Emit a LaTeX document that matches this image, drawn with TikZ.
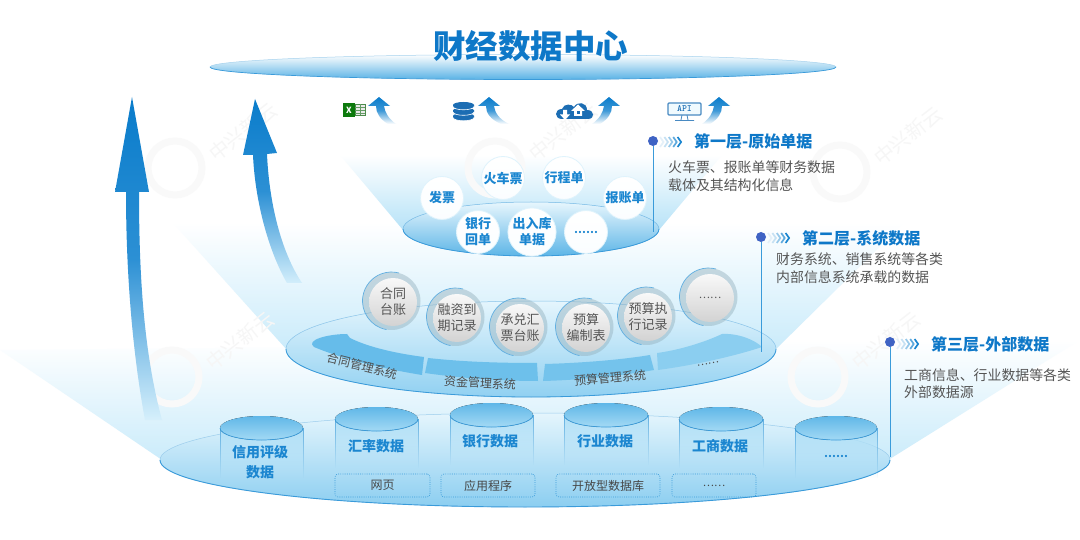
\documentclass[tikz,border=0pt]{standalone}
\usepackage{fontspec}
\setmainfont{Noto Sans CJK SC}
\usetikzlibrary{fadings,shapes.geometric,calc}
\tikzfading[name=fadedown, top color=transparent!0, bottom color=transparent!100]
\definecolor{bluehead}{HTML}{0A7CCB}
\definecolor{bluetext}{HTML}{1B86D0}
\definecolor{titleblue}{HTML}{0E78C8}
\definecolor{graytext}{HTML}{555555}
\definecolor{edgeblue}{HTML}{3A9BDA}
\definecolor{palebg}{HTML}{C4E9FA}
\definecolor{band}{HTML}{66BCEA}
\definecolor{dotblue}{HTML}{3F63C4}
\definecolor{iconblue}{HTML}{1C6DB3}
\tikzset{
  whiteball/.style={circle,minimum size=43pt,inner sep=0pt,align=center,font=\bfseries\fontsize{13}{16}\selectfont,text=bluetext,
     top color=white,bottom color=white!92!palebg,draw=palebg!55!white,line width=.8pt},
  grayball/.style={circle,minimum size=48pt,inner sep=0pt,align=center,font=\fontsize{13}{16}\selectfont,text=graytext,
     top color=white!95!gray,bottom color=white!65!gray},
  cyltxt/.style={font=\bfseries\fontsize{14}{20}\selectfont,text=bluetext,align=center,inner sep=0pt},
  boxtag/.style={draw=edgeblue,dash pattern=on .9pt off 1.3pt,line width=.6pt,rounded corners=3pt,minimum height=23pt,inner sep=0pt,font=\fontsize{12}{14}\selectfont,text=black!72},
  bandtxt/.style={font=\fontsize{12}{14}\selectfont,text=graytext!90!black,inner sep=0pt},
  layerhead/.style={anchor=west,inner sep=0pt,font=\bfseries\fontsize{16}{18}\selectfont,text=titleblue},
  layerbody/.style={anchor=north west,inner sep=0pt,align=left,font=\fontsize{13.9}{17.4}\selectfont,text=graytext},
  layerdot/.style={circle,minimum size=10pt,inner sep=0pt,fill=dotblue},
  leader/.style={edgeblue,line width=.8pt},
  wmark/.style={font=\fontsize{20}{22}\selectfont,text=black!3.5,rotate=38,inner sep=0pt},
  wlogo/.style={circle,minimum size=54pt,inner sep=0pt,draw=black!2.2,line width=7pt},
  chev/.style={line width=1.7pt},
}
\newcommand{\smalldots}{{\fontsize{10.5}{12}\selectfont ……}}
\newcommand{\chevrons}[2]{%
  \foreach \i/\c in {0/12,1/25,2/45,3/70,4/100}{
    \draw[chev,color=bluetext!\c] ({#1+\i*4.4},{#2-5}) -- ({#1+3.5+\i*4.4},#2) -- ({#1+\i*4.4},{#2+5});
  }}
\newcommand{\cylinder}[5]{% name, left x, cy, bottom y, right x
  \path[fill=palebg!80!band,path fading=fadedown] (#2,#3) -- (#2,#4) -- (#5,#4) -- (#5,#3) arc[start angle=0,end angle=180,x radius={(#5-#2)/2},y radius=12] -- cycle;
  \path[draw=edgeblue!80,line width=.6pt,path fading=fadedown] (#2,#3) -- (#2,#4) (#5,#3) -- (#5,#4);
  \fill[top color=band!85!edgeblue,bottom color=palebg!65!band] ({(#2+#5)/2},#3) ellipse[x radius={(#5-#2)/2},y radius=12];
  \draw[edgeblue,line width=.7pt] (#5,#3) arc[start angle=0,end angle=180,x radius={(#5-#2)/2},y radius=12];
  \coordinate (#1) at ({(#2+#5)/2},#3);
}
\begin{document}
\begin{tikzpicture}[x=1pt,y=-1pt]
\useasboundingbox (0,0) rectangle (1080,540);
\fill[white] (0,0) rectangle (1080,540);
% ---- funnel light backgrounds
\path[top color=white,bottom color=palebg!90!white] (0,350) -- (1080,340) -- (885,462) -- (165,462) -- cycle;
\path[top color=white,bottom color=palebg!90!white] (172,222) -- (905,222) -- (775,350) -- (287,350) -- cycle;
\path[top color=white,bottom color=palebg!85!band] (340,155) -- (722,155) -- (659,230) -- (403,230) -- cycle;
% ---- watermarks
\foreach \x/\y in {175/168,172/377,495/168,818/377,840/172}{
  \node[wlogo] (wl\x) at (\x,\y) {};
  \node[wmark] (wt\x) at (\x+68,\y-36) {中兴新云};
}
% ---- top disc
\path[top color=white,middle color=palebg!35!white,bottom color=band!70!edgeblue,draw=edgeblue!45,line width=.5pt] (523,67) ellipse[x radius=313,y radius=12.5];
\draw[edgeblue,line width=.7pt] (836,67) arc[start angle=0,end angle=180,x radius=313,y radius=12.5];
\node[inner sep=0pt,font=\bfseries\fontsize{32.5}{36}\selectfont,text=titleblue] (title) at (530.5,46) {财经数据中心};
% ---- big arrows
\path[top color=bluehead,bottom color=white!30!palebg,middle color=bluetext!90!palebg] (132,97) -- (149,192) -- (139,192) .. controls (139,270) and (143,350) .. (162,420) -- (145,420) .. controls (132,350) and (126,270) .. (126,192) -- (115,192) -- cycle;
\path[top color=bluehead,bottom color=white!25!palebg,middle color=bluetext!90!palebg] (255,99) -- (277,153) -- (267,154) .. controls (269,200) and (280,250) .. (302,283) -- (287,283) .. controls (268,250) and (255,200) .. (253,155) -- (243,155) -- cycle;
% ---- small arrows
\foreach \tx/\bx/\s in {379/395/1,489/508/1,609/593/-1,719/703/-1}{
  \path[top color=bluehead,bottom color=white,middle color=bluetext!85]
    (\tx,97) -- ({\tx+\s*11},106) -- ({\tx+\s*5},106) .. controls ({\tx+\s*6},113) and ({\tx+\s*10},119) .. ({\bx+\s*1},124)
    -- ({\bx-\s*7},124) .. controls ({\tx+\s*1},119) and ({\tx-\s*3},113) .. ({\tx-\s*3},106) -- ({\tx-\s*11},106) -- cycle;
}
% ---- excel icon
\fill[black!8] (352,104) rectangle (365,116);
\draw[green!35!black!70,line width=.5pt] (355,104.5) rectangle (365,115.5);
\foreach \yy in {107,110,113}{\draw[green!35!black!60,line width=.5pt] (355,\yy) -- (365,\yy);}
\draw[green!35!black!60,line width=.5pt] (360,104.5) -- (360,115.5);
\fill[green!45!black!95] (343,103) rectangle (355,117);
\node[inner sep=0pt,font=\bfseries\fontsize{8.5}{9}\selectfont,text=white] (xl) at (349,110) {X};
% ---- database icon
\foreach \yy in {116,110.5,105}{
  \fill[iconblue] (453,\yy) -- (453,\yy+1.5) arc[start angle=180,end angle=0,x radius=10.5,y radius=3.3] -- (474,\yy) -- cycle;
  \fill[iconblue] (463.5,\yy) ellipse[x radius=10.5,y radius=3];
  \draw[white,line width=.6pt] (453,\yy+1.5) arc[start angle=180,end angle=0,x radius=10.5,y radius=3.3];
}
% ---- cloud icon
\fill[iconblue] (562,119) .. controls (554,119) and (554,109) .. (562,109) .. controls (564,103) and (572,104) .. (574,107) .. controls (577,101) and (587,102) .. (587,110) .. controls (595,110) and (595,119) .. (588,119) -- cycle;
\fill[white] (578,104.5) -- (585,111) -- (582,111) -- (582,116) -- (574,116) -- (574,111) -- (571,111) -- cycle;
\fill[iconblue] (576.5,111) rectangle (579.5,114.5);
\fill[white] (565,120) -- (560,114.5) -- (563,114.5) -- (563,110) -- (567,110) -- (567,114.5) -- (570,114.5) -- cycle;
% ---- API icon
\draw[iconblue!80,fill=palebg!25!white,line width=1.1pt,rounded corners=1pt] (668,103) rectangle (701,115);
\draw[iconblue!80,line width=.8pt] (682,115) -- (681,120) (687,115) -- (688,120) (675,120.5) -- (694,120.5);
\node[inner sep=0pt,font=\ttfamily\bfseries\fontsize{9.5}{9}\selectfont,text=iconblue] (api) at (684.5,109) {API};
% ---- layer 1 disc
\path[top color=white!60!palebg,middle color=palebg!80!white,bottom color=band!80!edgeblue,draw=edgeblue!70,line width=.5pt] (531,229) ellipse[x radius=128,y radius=27];
\draw[edgeblue,line width=.8pt] (659,229) arc[start angle=0,end angle=180,x radius=128,y radius=27];
\node[whiteball] (b1) at (442,198) {发票};
\node[whiteball] (b2) at (503,178) {火车票};
\node[whiteball] (b3) at (564,178) {行程单};
\node[whiteball] (b4) at (625,198) {报账单};
\node[whiteball] (b5) at (478,232) {银行\\回单};
\node[whiteball] (b6) at (532,232) {出入库\\单据};
\node[whiteball] (b7) at (586,232) {\smalldots};
% ---- layer 2 disc
\path[top color=palebg!45!white,bottom color=band!55!palebg,draw=edgeblue!60,line width=.5pt] (531,349) ellipse[x radius=245,y radius=48];
\draw[edgeblue,line width=.8pt] (776,349) arc[start angle=0,end angle=180,x radius=245,y radius=48];
\fill[band] (314,347) .. controls (305,340) and (328,334) .. (347,334) -- (350,338) .. controls (370,348) and (400,354) .. (424,357) -- (422,375) .. controls (385,369) and (345,360) .. cycle;
\fill[band!92!palebg] (428,358) .. controls (465,362) and (500,363) .. (537,363) -- (538,381) .. controls (500,381) and (460,378) .. (425,373) -- cycle;
\fill[band!85!palebg] (545,364) .. controls (580,363) and (620,360) .. (650,355) -- (654,370) .. controls (620,376) and (580,380) .. (543,381) -- cycle;
\fill[band!60!palebg] (657,353) .. controls (680,350) and (705,342) .. (722,334) .. controls (738,333) and (755,340) .. (762,347) .. controls (735,356) and (695,365) .. (658,370) -- cycle;
\node[bandtxt,rotate=-14] (l1) at (362,366) {合同管理系统};
\node[bandtxt,rotate=-3] (l2) at (480,383) {资金管理系统};
\node[bandtxt,rotate=5] (l3) at (610,378) {预算管理系统};
\node[bandtxt,rotate=10] (l4) at (708,364) {\smalldots};
\foreach \n/\x/\y/\t in {g1/393/302/{合同\\台账},g2/457/318/{融资到\\期记录},g3/520/328/{承兑汇\\票台账},g4/586/328/{预算\\编制表},g5/648/317/{预算执\\行记录},g6/710/298/{\smalldots}}{
  \fill[black!25!palebg,opacity=.45] (\x-1.5,\y-1) circle[radius=29];
  \draw[edgeblue!80,line width=.7pt] ({\x-1.5+29*cos(100)},{\y-1+29*sin(100)}) arc[start angle=100,end angle=285,radius=29];
  \node[grayball] (\n) at (\x,\y) {\t};
}
% ---- layer 3 disc
\path[top color=palebg!45!white,bottom color=band!60!palebg,draw=edgeblue!50,line width=.5pt] (525,460) ellipse[x radius=365,y radius=47];
\draw[edgeblue,line width=.9pt] (890,460) arc[start angle=0,end angle=180,x radius=365,y radius=47];
\cylinder{c1}{220}{428}{478}{303}
\cylinder{c2}{335}{419}{468}{418}
\cylinder{c3}{450}{415}{465}{533}
\cylinder{c4}{564}{415}{465}{648}
\cylinder{c5}{679}{419}{468}{763}
\cylinder{c6}{795}{428}{478}{877}
\node[cyltxt] (t1) at (260,462) {信用评级\\数据};
\node[cyltxt] (t2) at (376,446) {汇率数据};
\node[cyltxt] (t3) at (490,441) {银行数据};
\node[cyltxt] (t4) at (605,441) {行业数据};
\node[cyltxt] (t5) at (720,446) {工商数据};
\node[cyltxt] (t6) at (836,456) {\smalldots};
\node[boxtag,minimum width=95pt] (d1) at (382.5,485.5) {网页};
\node[boxtag,minimum width=94pt] (d2) at (488,485.5) {应用程序};
\node[boxtag,minimum width=104pt] (d3) at (608,485.5) {开放型数据库};
\node[boxtag,minimum width=84pt] (d4) at (714,485.5) {\smalldots};
% ---- annotations
\node[layerdot] (p1) at (653,141) {};
\node[layerdot] (p2) at (761,237) {};
\node[layerdot] (p3) at (890,342) {};
\coordinate (e1) at (653,232);
\coordinate (e2) at (761,352);
\coordinate (e3) at (890,457);
\draw[leader] (p1) -- (e1);
\draw[leader] (p2) -- (e2);
\draw[leader] (p3) -- (e3);
\chevrons{660}{142}
\chevrons{768}{238}
\chevrons{897}{344}
\node[layerhead] (h1) at (694,141) {第一层-原始单据};
\node[layerhead] (h2) at (802,238) {第二层-系统数据};
\node[layerhead] (h3) at (931,344) {第三层-外部数据};
\node[layerbody] (x1) at (668,161) {火车票、报账单等财务数据\\载体及其结构化信息};
\node[layerbody] (x2) at (776,253) {财务系统、销售系统等各类\\内部信息系统承载的数据};
\node[layerbody] (x3) at (904,368) {工商信息、行业数据等各类\\外部数据源};
\end{tikzpicture}
\end{document}
